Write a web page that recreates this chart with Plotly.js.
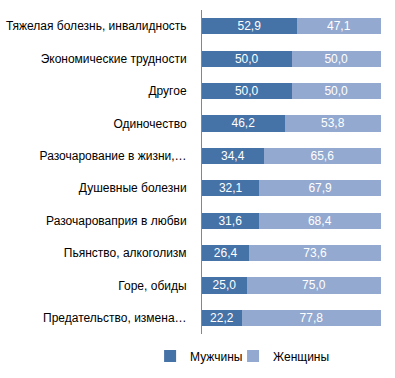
<!DOCTYPE html>
<html>
<head>
<meta charset="utf-8">
<script src="https://cdn.plot.ly/plotly-3.0.1.min.js"></script>
<style>html,body{margin:0;padding:0;background:#fff}#chart{width:395px;height:378px}</style>
</head>
<body>
<div id="chart"></div>
<script>
const categories = [
  "Тяжелая болезнь, инвалидность",
  "Экономические трудности",
  "Другое",
  "Одиночество",
  "Разочарование в жизни,…",
  "Душевные болезни",
  "Разочароваприя в любви",
  "Пьянство, алкоголизм",
  "Горе, обиды",
  "Предательство, измена…"
];
const men = [52.9, 50.0, 50.0, 46.2, 34.4, 32.1, 31.6, 26.4, 25.0, 22.2];
const women = [47.1, 50.0, 50.0, 53.8, 65.6, 67.9, 68.4, 73.6, 75.0, 77.8];
const seriesNames = ["Мужчины", "Женщины"];

const font = "Liberation Sans, Arial, sans-serif";
const mk = (vals, name, color, lg) => ({
  type: "bar", orientation: "h", name: name, legend: lg,
  y: categories, x: vals,
  marker: {color: color},
  text: vals, texttemplate: "%{x:.1f}", textposition: "inside",
  insidetextanchor: "middle", constraintext: "none",
  textfont: {color: "#ffffff", size: 12, family: font},
  hoverinfo: "none"
});
const data = [
  mk(men, seriesNames[0], "#4572A7", "legend"),
  mk(women, seriesNames[1], "#93A9CF", "legend2")
];
const legBase = {orientation: "h", xref: "container", xanchor: "left",
  y: 0.058, yref: "container", yanchor: "middle",
  font: {size: 12, family: font}, itemwidth: 30, bgcolor: "rgba(0,0,0,0)"};
const layout = {
  width: 395, height: 378,
  margin: {l: 202, r: 14, t: 10, b: 44, autoexpand: false},
  barmode: "stack", bargap: 0.5,
  separators: ", ",
  paper_bgcolor: "#fff", plot_bgcolor: "#fff",
  font: {family: font, size: 12, color: "#000"},
  showlegend: true,
  legend: Object.assign({}, legBase, {x: 0.38}),
  legend2: Object.assign({}, legBase, {x: 0.59}),
  xaxis: {range: [0, 100], visible: false, fixedrange: true},
  yaxis: {autorange: "reversed", showline: true, linecolor: "#868686", linewidth: 1,
          showgrid: false, ticks: "", ticklabelstandoff: 12,
          tickfont: {size: 12, family: font, color: "#000"}}
};
Plotly.newPlot("chart", data, layout, {staticPlot: true});
</script>
</body>
</html>
